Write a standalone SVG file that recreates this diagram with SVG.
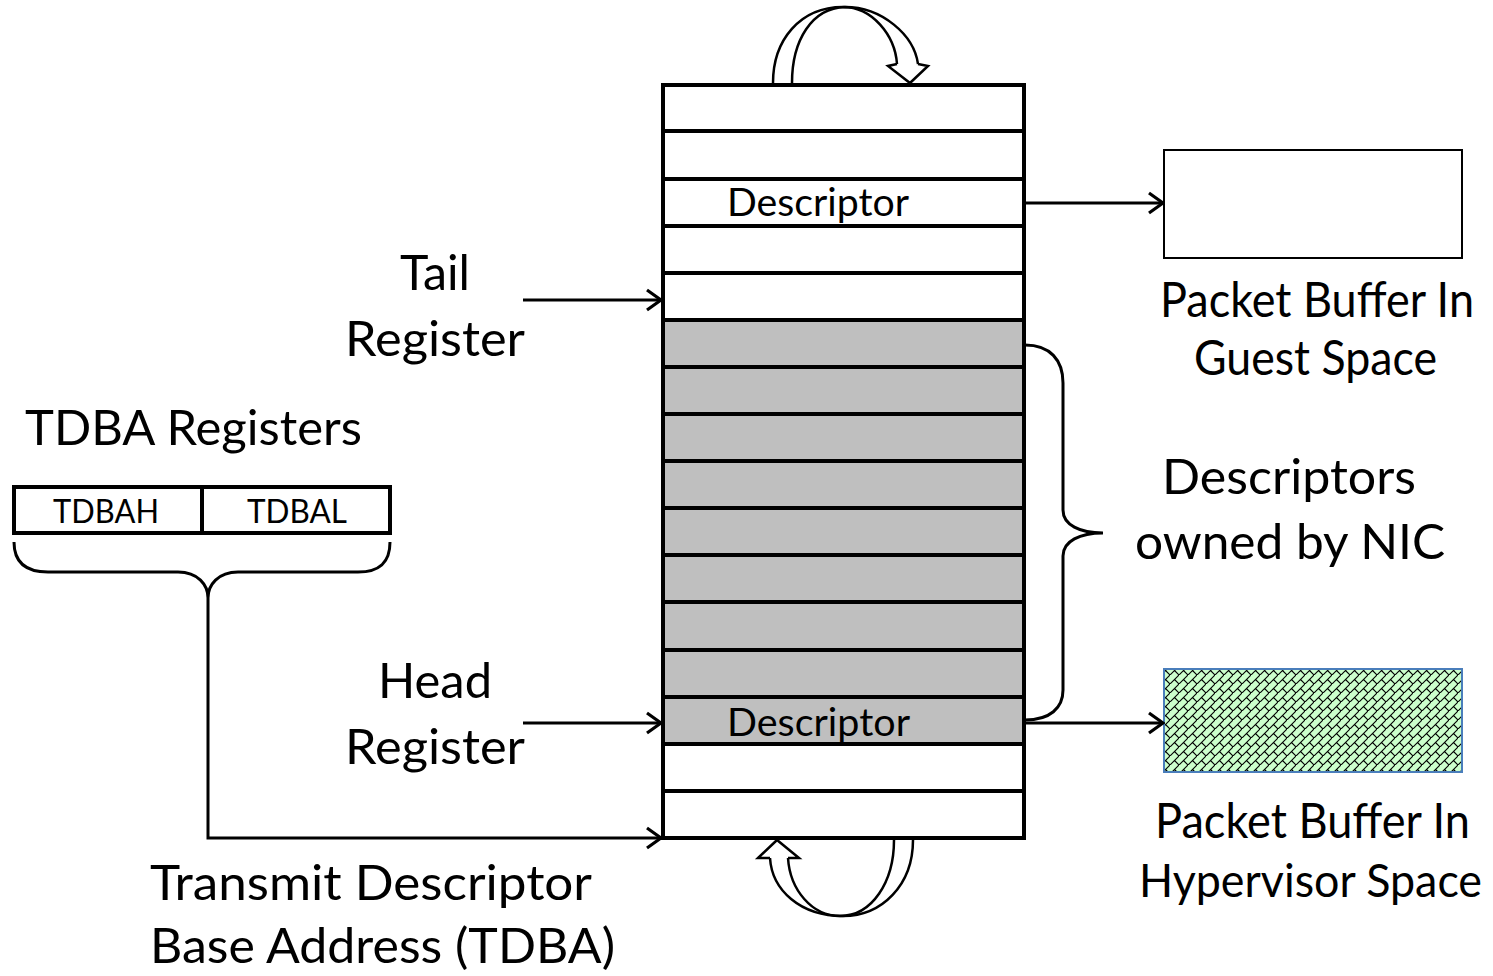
<svg xmlns="http://www.w3.org/2000/svg" width="1493" height="976" viewBox="0 0 1493 976">
<style>
text{font-family:Lato,"Open Sans","Liberation Sans",sans-serif;fill:#000}
.big{font-size:48px}
.mid{font-size:39px}
.sm{font-size:32px}
.ln{stroke:#000;stroke-width:3;fill:none}
.row{stroke:#000;stroke-width:4}
.arc{stroke:#000;stroke-width:2.5;fill:none}
</style>
<defs>
<marker id="ah" viewBox="0 0 18 24" refX="16" refY="12" markerWidth="18" markerHeight="24" markerUnits="userSpaceOnUse" orient="auto">
<path d="M2,2 L16,12 L2,22" fill="none" stroke="#000" stroke-width="3.2"/>
</marker>
<pattern id="brick" width="9" height="9" patternUnits="userSpaceOnUse">
<rect width="9" height="9" fill="#ccffcc"/>
<path d="M-1,10 L10,-1 M4.5,4.5 L9,9" stroke="#000" stroke-width="1.1" fill="none"/>
</pattern>
</defs>

<g id="ring">
<rect x="663" y="85" width="361" height="753" fill="#fff"/>
<rect x="663" y="320" width="361" height="424" fill="#bfbfbf"/>
<g class="row">
<line x1="663" y1="131" x2="1024" y2="131"/>
<line x1="663" y1="179" x2="1024" y2="179"/>
<line x1="663" y1="226" x2="1024" y2="226"/>
<line x1="663" y1="273" x2="1024" y2="273"/>
<line x1="663" y1="320" x2="1024" y2="320"/>
<line x1="663" y1="367" x2="1024" y2="367"/>
<line x1="663" y1="414" x2="1024" y2="414"/>
<line x1="663" y1="461" x2="1024" y2="461"/>
<line x1="663" y1="508" x2="1024" y2="508"/>
<line x1="663" y1="555" x2="1024" y2="555"/>
<line x1="663" y1="602" x2="1024" y2="602"/>
<line x1="663" y1="650" x2="1024" y2="650"/>
<line x1="663" y1="697" x2="1024" y2="697"/>
<line x1="663" y1="744" x2="1024" y2="744"/>
<line x1="663" y1="791" x2="1024" y2="791"/>
</g>
<rect x="663" y="85" width="361" height="753" fill="none" stroke="#000" stroke-width="4"/>
<text class="mid" x="727" y="216" textLength="182" lengthAdjust="spacingAndGlyphs">Descriptor</text>
<text class="mid" x="727" y="736" textLength="183" lengthAdjust="spacingAndGlyphs">Descriptor</text>
</g>

<g id="wrap-top">
<path class="arc" d="M773,83 C773,40 800,7 843,7 C872,7 895,35 897,64"/>
<path class="arc" d="M792,83 C792,40 812,8 845,7 C882,7 914,35 918,64"/>
<path class="arc" d="M897,64 L888,66 L910,83 L928,66 L918,64"/>
</g>
<g id="wrap-bottom">
<path class="arc" d="M894,840 C894,882 872,916 840,916 C812,916 790,890 788,858"/>
<path class="arc" d="M913,840 C913,885 882,916 843,916 C800,916 772,890 770,858"/>
<path class="arc" d="M770,858 L758,858 L777,840 L799,858 L788,858"/>
</g>

<g id="tdba-regs">
<text class="big" x="25" y="445" textLength="337" lengthAdjust="spacingAndGlyphs">TDBA Registers</text>
<rect x="14" y="487" width="376" height="46" fill="#fff" stroke="#000" stroke-width="4"/>
<line x1="202" y1="487" x2="202" y2="533" stroke="#000" stroke-width="4"/>
<text class="sm" x="53" y="523" textLength="106" lengthAdjust="spacingAndGlyphs">TDBAH</text>
<text class="sm" x="247" y="523" textLength="100" lengthAdjust="spacingAndGlyphs">TDBAL</text>
<path class="ln" d="M14,542 C14,562 25,572 48,572 L178,572 C198,572 208,585 208,598 C208,585 218,572 238,572 L358,572 C380,572 390,562 390,542"/>
</g>

<g id="tail-label">
<text class="big" x="400" y="290" textLength="70" lengthAdjust="spacingAndGlyphs">Tail</text>
<text class="big" x="345" y="356" textLength="180" lengthAdjust="spacingAndGlyphs">Register</text>
</g>
<g id="head-label">
<text class="big" x="378" y="698" textLength="114" lengthAdjust="spacingAndGlyphs">Head</text>
<text class="big" x="345" y="764" textLength="180" lengthAdjust="spacingAndGlyphs">Register</text>
</g>
<g id="tdba-label">
<text class="big" x="150" y="900" textLength="442" lengthAdjust="spacingAndGlyphs">Transmit Descriptor</text>
<text class="big" x="150" y="963" textLength="465" lengthAdjust="spacingAndGlyphs">Base Address (TDBA)</text>
</g>

<g id="guest-buffer">
<rect x="1164" y="150" width="298" height="108" fill="#fff" stroke="#000" stroke-width="2"/>
<text class="big" x="1160" y="317" textLength="314" lengthAdjust="spacingAndGlyphs">Packet Buffer In</text>
<text class="big" x="1194" y="375" textLength="243" lengthAdjust="spacingAndGlyphs">Guest Space</text>
</g>

<g id="nic-owned">
<path class="ln" d="M1025,345 C1050,345 1063,360 1063,383 L1063,510 C1063,525 1080,533 1103,533 C1080,533 1063,541 1063,556 L1063,690 C1063,708 1050,720 1025,720"/>
<text class="big" x="1162" y="494" textLength="254" lengthAdjust="spacingAndGlyphs">Descriptors</text>
<text class="big" x="1135" y="559" textLength="310" lengthAdjust="spacingAndGlyphs">owned by NIC</text>
</g>

<g id="hyp-buffer">
<rect x="1164" y="669" width="298" height="103" fill="url(#brick)" stroke="#4a7ebb" stroke-width="2"/>
<text class="big" x="1155" y="838" textLength="315" lengthAdjust="spacingAndGlyphs">Packet Buffer In</text>
<text x="1139" y="897" font-size="46" textLength="343" lengthAdjust="spacingAndGlyphs">Hypervisor Space</text>
</g>

<g id="connectors">
<line class="ln" x1="523" y1="300" x2="661" y2="300" marker-end="url(#ah)"/>
<line class="ln" x1="523" y1="723" x2="661" y2="723" marker-end="url(#ah)"/>
<line class="ln" x1="1026" y1="203" x2="1163" y2="203" marker-end="url(#ah)"/>
<line class="ln" x1="1026" y1="723" x2="1163" y2="723" marker-end="url(#ah)"/>
<path class="ln" d="M208,598 L208,838 L661,838" marker-end="url(#ah)"/>
</g>
</svg>
